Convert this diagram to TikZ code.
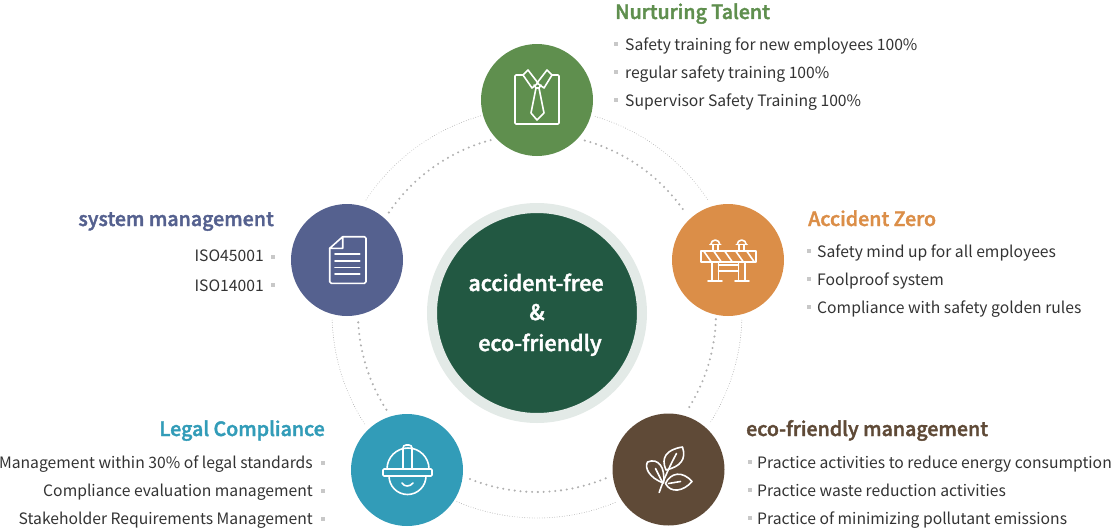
\documentclass[tikz,border=0pt]{standalone}
\usepackage{fontspec}
\setmainfont{Noto Sans CJK KR}
\newfontfamily\medf{Noto Sans CJK KR Medium}[FakeBold=2]
\definecolor{cgreen}{HTML}{5F8F4E}
\definecolor{corange}{HTML}{DB8E48}
\definecolor{cbrown}{HTML}{5F4A37}
\definecolor{cteal}{HTML}{329CB8}
\definecolor{cblue}{HTML}{55618F}
\definecolor{cdark}{HTML}{225842}
\definecolor{cring}{HTML}{E3EAE7}
\definecolor{ctext}{HTML}{333333}
\definecolor{cbul}{HTML}{C8C8C8}
\definecolor{cdot}{HTML}{B0B0B0}
\tikzset{
  hub/.style={circle,draw=none,minimum size=112pt,inner sep=0pt},
  ttl/.style={font=\fontsize{19.6}{24}\selectfont\medf,inner sep=0pt},
  ttlr/.style={ttl,anchor=base west},
  ttll/.style={ttl,anchor=base east},
  itemr/.style={font=\fontsize{15.7}{20}\selectfont,text=ctext,anchor=base west,inner sep=0pt},
  iteml/.style={font=\fontsize{15.7}{20}\selectfont,text=ctext,anchor=base east,inner sep=0pt},
  bul/.style={fill=cbul,draw=none,minimum size=4pt,inner sep=0pt,rectangle},
  core/.style={font=\fontsize{21.5}{26}\selectfont\medf,text=white,inner sep=0pt,anchor=base},
  icon/.style={draw=white,line width=1.6pt,line join=round,line cap=round},
  thickdots/.style={draw=cdot,line width=2.3pt,line cap=round,dash pattern=on 0pt off 5.8pt},
  finedots/.style={draw=cdot,line width=.9pt,line cap=round,dash pattern=on 0pt off 2.5pt},
}
\begin{document}
\begin{tikzpicture}[x=1pt,y=-1pt]
\useasboundingbox (0,0) rectangle (1111,530);
% dotted rings
\foreach \a/\b in {-105/-147, 177/146, 112/66, 2/32, -74.5/-34}{
  \draw[thickdots] plot[smooth,domain=\a:\b,samples=40] ({537+179*cos(\x)},{313+179*sin(\x)});
}
\foreach \a/\b in {-106/-147, 178/147, 113/67, 2/32.5, -73.5/-33}{
  \draw[finedots] plot[smooth,domain=\a:\b,samples=40] ({537+205*cos(\x)},{313+205*sin(\x)});
}
% centre
\node[circle,fill=cdark,draw=cring,line width=10pt,minimum size=210pt,inner sep=0pt] (core) at (537,313) {};
\node[core] (c1) at (536,291) {accident-free};
\node[core] (c2) at (537,320) {\&};
\node[core] (c3) at (540,351) {eco-friendly};
% hubs
\node[hub,fill=cgreen] (h1) at (537,100) {};
\node[hub,fill=corange] (h2) at (728,260) {};
\node[hub,fill=cbrown] (h3) at (668.5,469.5) {};
\node[hub,fill=cteal] (h4) at (407,470) {};
\node[hub,fill=cblue] (h5) at (347,260) {};
% shirt
\begin{scope}[shift={(h1.center)},icon]
\draw[rounded corners=1pt] (-14,-25) -- (-22,-25) -- (-22,24) -- (22,24) -- (22,-25) -- (15,-25);
\draw (-9,-30) -- (1,-17) -- (-5,-12) -- (-14,-25) -- cycle;
\draw (10,-30) -- (0,-17) -- (7,-12) -- (15,-25) -- cycle;
\draw (-3,-15) -- (-1,-12) -- (2,-12) -- (4,-15);
\draw (-1,-12) -- (-6,13) -- (0,20) -- (7,13) -- (2,-12);
\end{scope}
% barrier
\begin{scope}[shift={(h2.center)},icon]
\draw (-27,-9) rectangle (28,2);
\foreach \s in {-24,-14,-3,8,19} \draw (\s,-8.5) -- (\s+7,1.5);
\draw (-16,2) -- (-16,21) (-9.5,2) -- (-9.5,21) (10.5,2) -- (10.5,21) (17,2) -- (17,21);
\draw (-20,21) -- (-6,21) (7,21) -- (21,21);
\draw (-9.5,5) -- (10.5,5) (-9.5,11) -- (10.5,11);
\foreach \k in {-12.7,13.7}{
  \draw (\k-5.5,-15.5) -- (\k+5.5,-15.5);
  \draw (\k-4.5,-15.5) arc[start angle=180,end angle=360,radius=4.5];
  \draw (\k-2.5,-15.5) -- (\k-2.5,-9) (\k+2.5,-15.5) -- (\k+2.5,-9);
}
\end{scope}
% leaves
\begin{scope}[shift={(h3.center)},icon]
\draw (-9.3,23) .. controls (-5,10) and (2,-5) .. (8,-16);
\draw (-2.5,0.5) .. controls (-8,-12) and (-2,-20) .. (14,-22.5) .. controls (18,-10) and (12,-3) .. (-2.5,0.5);
\draw (-5,13.5) .. controls (-20,8) and (-24,-2) .. (-21,-7.5) .. controls (-10,-12) and (-3,-2) .. (-5,13.5);
\draw (-13,-1) -- (-6,13);
\draw (-3,14) .. controls (2,3) and (14,1) .. (23.5,12) .. controls (15,22) and (2,24) .. (-3,14);
\draw (0,14) -- (12,12);
\end{scope}
% helmet
\begin{scope}[shift={(h4.center)},icon]
\draw[rounded corners=1pt] (-24,-1) rectangle (25,6);
\draw (-20,-1) arc[start angle=180,end angle=360,radius=21];
\draw[rounded corners=3pt] (-4,-1) -- (-4,-25) -- (5,-25) -- (5,-1);
\draw (-18,6) arc[start angle=180,end angle=0,radius=18.5];
\draw (-5,13) .. controls (-3,17) and (3,17) .. (6,13);
\end{scope}
% document
\begin{scope}[shift={(h5.center)},icon]
\draw[rounded corners=1.5pt] (-4.3,-23.3) -- (19,-23.3) -- (19,23.3) -- (-17.3,23.3) -- (-17.3,-11.7);
\draw (-17.3,-11.7) -- (-4.3,-23.3) -- (-4.3,-11.7) -- cycle;
\foreach \y in {-6,0.7,7.3,14} \draw (-12,\y) -- (12.7,\y);
\end{scope}
% Nurturing Talent
\node[ttlr,text=cgreen] (t1) at (615,19) {Nurturing Talent};
\node[bul] (b11) at (616,44) {}; \node[itemr] (i11) at (625,50) {Safety training for new employees 100\%};
\node[bul] (b12) at (616,72) {}; \node[itemr] (i12) at (625,78) {regular safety training 100\%};
\node[bul] (b13) at (616,100) {}; \node[itemr] (i13) at (625,106) {Supervisor Safety Training 100\%};
% Accident Zero
\node[ttlr,text=corange] (t2) at (808,226) {Accident Zero};
\node[bul] (b21) at (809,251) {}; \node[itemr] (i21) at (817,257) {Safety mind up for all employees};
\node[bul] (b22) at (809,279) {}; \node[itemr] (i22) at (817,285) {Foolproof system};
\node[bul] (b23) at (809,307) {}; \node[itemr] (i23) at (817,313) {Compliance with safety golden rules};
% eco-friendly management
\node[ttlr,text=cbrown] (t3) at (746,436) {eco-friendly management};
\node[bul] (b31) at (750,462) {}; \node[itemr] (i31) at (757,468) {Practice activities to reduce energy consumption};
\node[bul] (b32) at (750,490) {}; \node[itemr] (i32) at (757,496) {Practice waste reduction activities};
\node[bul] (b33) at (750,518) {}; \node[itemr] (i33) at (757,524) {Practice of minimizing pollutant emissions};
% Legal Compliance
\node[ttll,text=cteal] (t4) at (325,436) {Legal Compliance};
\node[bul] (b41) at (323,463) {}; \node[iteml] (i41) at (313,468) {Management within 30\% of legal standards};
\node[bul] (b42) at (323,491) {}; \node[iteml] (i42) at (313,496) {Compliance evaluation management};
\node[bul] (b43) at (323,519) {}; \node[iteml] (i43) at (313,524) {Stakeholder Requirements Management};
% system management
\node[ttll,text=cblue] (t5) at (274,226) {system management};
\node[bul] (b51) at (273,257) {}; \node[iteml] (i51) at (264,261) {ISO45001};
\node[bul] (b52) at (273,285) {}; \node[iteml] (i52) at (264,291) {ISO14001};
\end{tikzpicture}
\end{document}
